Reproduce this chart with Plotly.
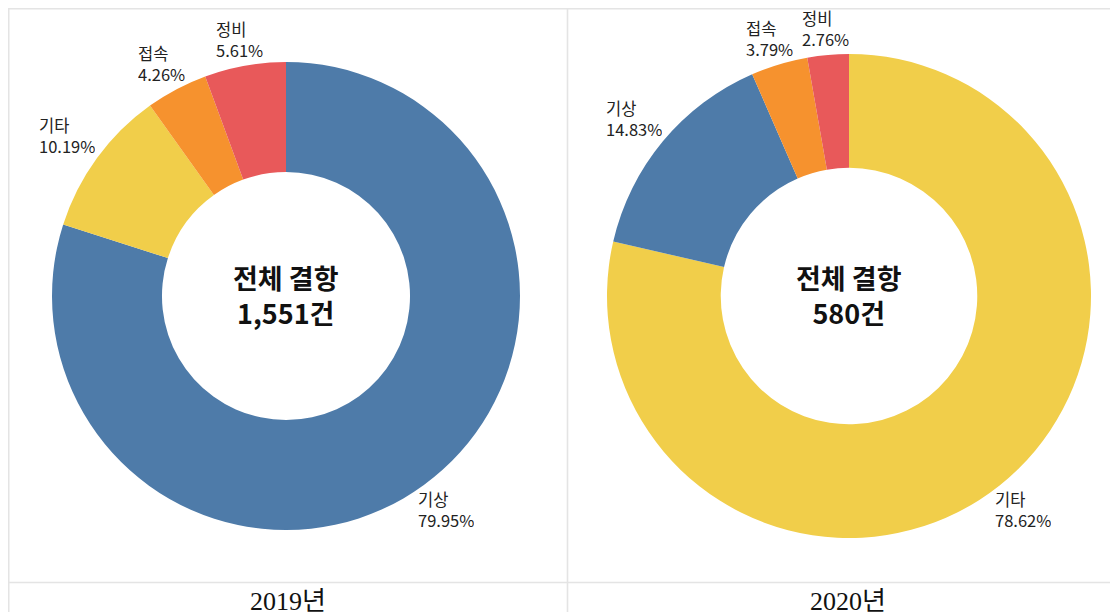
import math
import plotly.graph_objects as go

# Data
labels_2019 = ["기상", "기타", "접속", "정비"]
values_2019 = [79.95, 10.19, 4.26, 5.61]
labels_2020 = ["기타", "기상", "접속", "정비"]
values_2020 = [78.62, 14.83, 3.79, 2.76]
totals = ["1,551건", "580건"]
years = ["2019년", "2020년"]

color_map = {"기상": "#4E7BA9", "기타": "#F1CE4A", "접속": "#F6922E", "정비": "#E8595A"}

FONT = "Noto Sans CJK KR"
W, H = 1110, 604   # figure size (page body adds an 8px offset)
OFF = 8


def px(X):
    return (X - OFF) / W


def py(Y):
    return 1 - (Y - OFF) / H


fig = go.Figure()

# pies: (labels, values, total text, screen centre x, centre y, radius)
pies = [
    (labels_2019, values_2019, totals[0], 286, 296, 234),
    (labels_2020, values_2020, totals[1], 849, 296, 242),
]

LABEL_SIZE = 16.5
GLYPH_H = 35


def text_width(s, size):
    w = 0
    for ch in s:
        if ch.isdigit():
            w += 0.55
        elif ch == ".":
            w += 0.27
        elif ch == "%":
            w += 0.86
        else:
            w += 0.95
    return w * size


for labels, values, tot, cx, cy, r in pies:
    fig.add_trace(go.Pie(
        labels=labels,
        values=values,
        hole=0.53,
        sort=False,
        direction="clockwise",
        rotation=0,
        marker=dict(colors=[color_map[l] for l in labels], line=dict(width=0)),
        textinfo="none",
        domain=dict(x=[px(cx) - 0.24, min(1.0, px(cx) + 0.24)],
                    y=[py(cy) - r / H, py(cy) + r / H]),
        showlegend=False,
        hoverinfo="label+value",
    ))
    # outside labels, positioned from each slice's mid angle
    total = sum(values)
    cum = 0.0
    gap = 9
    for lab, v in zip(labels, values):
        ang = (cum + v / 2) / total * 2 * math.pi
        cum += v
        s, c = math.sin(ang), math.cos(ang)
        pct = f"{v:.2f}%"
        w = max(text_width(pct, LABEL_SIZE), text_width(lab, LABEL_SIZE)) + 1
        Px = cx + (r + gap) * s
        Py = cy - (r + gap) * c
        tx = Px + s * w / 2
        ty = Py - GLYPH_H / 2 if c > 0 else Py + GLYPH_H / 2
        fig.add_annotation(
            x=px(tx), y=py(ty), xref="paper", yref="paper",
            text=f"{lab}<br>{pct}", showarrow=False,
            font=dict(family=FONT, size=LABEL_SIZE, color="#222222"),
            align="left", width=w, xanchor="center", yanchor="middle",
            borderpad=0,
        )

    fig.add_annotation(
        x=px(cx), y=py(cy - 1), xref="paper", yref="paper",
        text="<b>전체 결항</b><br><b>" + tot + "</b>",
        showarrow=False,
        font=dict(family=FONT, size=27, color="#111111"),
        align="center", xanchor="center", yanchor="middle",
    )

for X, yr in [(288, years[0]), (848, years[1])]:
    fig.add_annotation(
        x=px(X), y=py(601), xref="paper", yref="paper",
        text=yr, showarrow=False,
        font=dict(family="Liberation Serif, Noto Sans CJK KR", size=26, color="#111111"),
        xanchor="center", yanchor="middle",
    )

line_col = "#E4E4E4"
shapes = [
    dict(type="line", xref="paper", yref="paper", x0=px(8), x1=1.0, y0=py(8.7), y1=py(8.7)),
    dict(type="line", xref="paper", yref="paper", x0=px(8.7), x1=px(8.7), y0=0, y1=py(8)),
    dict(type="line", xref="paper", yref="paper", x0=px(567.5), x1=px(567.5), y0=0, y1=py(8)),
    dict(type="line", xref="paper", yref="paper", x0=px(8), x1=1.0, y0=py(582.5), y1=py(582.5)),
]
for sh in shapes:
    sh["line"] = dict(color=line_col, width=1.6)
fig.update_layout(shapes=shapes)

fig.update_layout(
    width=W, height=H,
    margin=dict(l=0, r=0, t=0, b=0, autoexpand=False),
    paper_bgcolor="white",
    plot_bgcolor="white",
    font=dict(family=FONT),
)

fig.write_html("out.html")
